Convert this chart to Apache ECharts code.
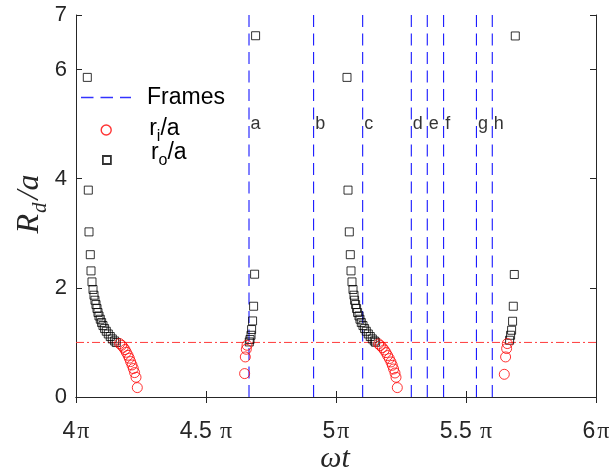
<!DOCTYPE html>
<html>
<head>
<meta charset="utf-8">
<script src="https://cdn.jsdelivr.net/npm/echarts@6/dist/echarts.min.js"></script>
<style>
  html, body { margin: 0; padding: 0; background: #fff; }
  #chart { width: 614px; height: 474px; }
</style>
</head>
<body>
<div id="chart"></div>
<script>
// Outer radius r_o/a per pass, as [ωt/π, r_o/a]
const roPass1 = [
  [4.0435, 5.857], [4.0473, 3.791], [4.0500, 3.026], [4.0550, 2.608],
  [4.0577, 2.311], [4.0615, 2.109], [4.0654, 1.970], [4.0692, 1.865],
  [4.0730, 1.773], [4.0769, 1.694], [4.0808, 1.621], [4.0846, 1.548],
  [4.0885, 1.485], [4.0935, 1.425], [4.0985, 1.364], [4.1038, 1.309],
  [4.1100, 1.254], [4.1165, 1.205], [4.1242, 1.155], [4.1319, 1.108],
  [4.1396, 1.064], [4.1485, 1.027], [4.1550, 0.998]
];
const roPass2 = [
  [4.6908, 6.620], [4.6869, 2.250], [4.6831, 1.663], [4.6792, 1.394],
  [4.6754, 1.236], [4.6731, 1.131], [4.6692, 1.053], [4.6665, 1.009]
];
const roPass3 = [
  [5.0423, 5.857], [5.0462, 3.791], [5.0512, 3.026], [5.0550, 2.608],
  [5.0577, 2.311], [5.0615, 2.109], [5.0654, 1.970], [5.0692, 1.865],
  [5.0715, 1.773], [5.0754, 1.694], [5.0792, 1.621], [5.0831, 1.548],
  [5.0885, 1.485], [5.0923, 1.425], [5.0973, 1.364], [5.1038, 1.309],
  [5.1100, 1.254], [5.1165, 1.205], [5.1242, 1.155], [5.1319, 1.108],
  [5.1396, 1.064], [5.1473, 1.027], [5.1523, 1.003]
];
const roPass4 = [
  [5.6896, 6.616], [5.6858, 2.245], [5.6819, 1.663], [5.6792, 1.388],
  [5.6754, 1.223], [5.6715, 1.131], [5.6677, 1.040]
];

// Inner radius r_i/a per pass, as [ωt/π, r_i/a]
const riPass1 = [
  [4.1677, 0.979], [4.1754, 0.948], [4.1819, 0.911], [4.1885, 0.869],
  [4.1935, 0.820], [4.2000, 0.765], [4.2050, 0.711], [4.2100, 0.649],
  [4.2154, 0.587], [4.2204, 0.521], [4.2254, 0.447], [4.2308, 0.361],
  [4.2358, 0.172]
];
const riPass2 = [
  [4.6577, 0.948], [4.6550, 0.875], [4.6512, 0.734], [4.6485, 0.429]
];
const riPass3 = [
  [5.1638, 0.972], [5.1704, 0.943], [5.1781, 0.906], [5.1858, 0.862],
  [5.1923, 0.814], [5.1985, 0.759], [5.2050, 0.704], [5.2115, 0.642],
  [5.2165, 0.581], [5.2215, 0.513], [5.2269, 0.440], [5.2308, 0.361],
  [5.2358, 0.172]
];
const riPass4 = [
  [5.6588, 0.979], [5.6562, 0.888], [5.6523, 0.734], [5.6473, 0.416]
];

// Snapshot instants (ωt/π) and their tags
const frameTimes = [4.6654, 4.914, 5.1027, 5.2896, 5.351, 5.414, 5.540, 5.601];
const frameNames = ['a', 'b', 'c', 'd', 'e', 'f', 'g', 'h'];
const frameTagLevel = 5;

// Drop radius reference R_d = a
const unitLevel = 1;

// Axis extents and ticks
const timeRange = [4, 6];
const radiusRange = [0, 7];
const xTicks = [4, 4.5, 5, 5.5, 6];
const xTickLabels = ['4π', '4.5 π', '5π', '5.5 π', '6π'];

const axisColor = '#262626';
const frameBlue = '#0000ff';
const sans = 'Liberation Sans, Arial, Helvetica, sans-serif';
const serif = 'Liberation Serif, Times New Roman, serif';
const frameDash = [12, 6.5];

const chart = echarts.init(document.getElementById('chart'), null, { renderer: 'canvas' });

function piLabel(v) {
  const i = xTicks.findIndex(t => Math.abs(t - v) < 1e-6);
  if (i < 0) return '';
  const s = xTickLabels[i];
  const k = s.indexOf('π');
  return '{n|' + s.slice(0, k) + '}{p|π}';
}

const subRich = {
  m: { fontSize: 23, fontFamily: sans, color: '#000', lineHeight: 24, verticalAlign: 'top' },
  s: { fontSize: 16, fontFamily: sans, color: '#000', lineHeight: 16, verticalAlign: 'top', padding: [12, 0, 0, 0] }
};

const legendBase = {
  orient: 'vertical',
  padding: 0,
  itemGap: 0,
  selectedMode: false,
  symbolKeepAspect: true
};

// Three dashes, drawn as the legend key of the snapshot lines
const dashKey = 'path://M0,0H12.5V1.3H0Z M19.5,0H32V1.3H19.5Z M39,0H50V1.3H39Z';

const frameLineSeries = frameTimes.map((t, i) => ({
  name: 'frame-' + frameNames[i],
  type: 'line',
  data: [[t, radiusRange[0]], [t, radiusRange[1]]],
  symbol: 'none',
  silent: true,
  lineStyle: { color: frameBlue, width: 1, type: frameDash },
  z: 1
}));

const option = {
  animation: false,
  backgroundColor: '#fff',
  grid: { left: 76, right: 18, top: 15, bottom: 77, containLabel: false, outerBoundsMode: 'none' },
  legend: [
    Object.assign({}, legendBase, {
      data: [{ name: 'Frames', icon: dashKey, itemStyle: { color: frameBlue } }],
      left: 81, top: 86, itemWidth: 50, itemHeight: 1.3,
      textStyle: { fontSize: 23, fontFamily: sans, color: '#000', padding: [0, 0, 0, 11] }
    }),
    Object.assign({}, legendBase, {
      data: [{ name: 'ri', icon: 'circle', itemStyle: { color: 'rgba(0,0,0,0)', borderColor: '#ff0000', borderWidth: 1.4 } }],
      left: 100.5, top: 117, itemWidth: 10, itemHeight: 10,
      formatter: () => '{m|r}{s|i}{m|/a}',
      textStyle: { fontSize: 23, fontFamily: sans, color: '#000', padding: [0, 0, 2, 33], rich: subRich }
    }),
    Object.assign({}, legendBase, {
      data: [{ name: 'ro', icon: 'rect', itemStyle: { color: 'rgba(0,0,0,0)', borderColor: '#000', borderWidth: 1.8 } }],
      left: 102, top: 141, itemWidth: 8, itemHeight: 8,
      formatter: () => '{m|r}{s|o}{m|/a}',
      textStyle: { fontSize: 23, fontFamily: sans, color: '#000', padding: [0, 0, 14, 35], rich: subRich }
    })
  ],
  xAxis: [
    {
      type: 'value', position: 'bottom', min: timeRange[0], max: timeRange[1], interval: 0.5,
      axisLine: { show: true, lineStyle: { color: axisColor, width: 1 } },
      axisTick: { show: true, inside: true, length: 6, lineStyle: { color: axisColor } },
      splitLine: { show: false },
      axisLabel: {
        margin: 23, formatter: piLabel,
        rich: {
          n: { fontSize: 23, fontFamily: sans, color: axisColor },
          p: { fontSize: 24, fontFamily: serif, color: axisColor, padding: [0, 0, 0, 2] }
        }
      }
    },
    {
      type: 'value', position: 'top', min: timeRange[0], max: timeRange[1], interval: 0.5,
      axisLine: { show: true, lineStyle: { color: axisColor, width: 1 } },
      axisTick: { show: true, inside: true, length: 6, lineStyle: { color: axisColor } },
      axisLabel: { show: false }, splitLine: { show: false }
    }
  ],
  yAxis: [
    {
      type: 'value', position: 'left', min: radiusRange[0], max: radiusRange[1], interval: 2,
      axisLine: { show: true, lineStyle: { color: axisColor, width: 1 } },
      axisTick: { show: true, inside: true, length: 6, lineStyle: { color: axisColor } },
      splitLine: { show: false },
      axisLabel: { margin: 9, fontSize: 22, fontFamily: sans, color: axisColor }
    },
    {
      type: 'value', position: 'right', min: radiusRange[0], max: radiusRange[1], interval: 2,
      axisLine: { show: true, lineStyle: { color: axisColor, width: 1 } },
      axisTick: { show: true, inside: true, length: 6, lineStyle: { color: axisColor } },
      axisLabel: { show: false }, splitLine: { show: false }
    }
  ],
  series: frameLineSeries.concat([
    {
      name: 'Frames',
      type: 'scatter',
      data: [],
      itemStyle: { color: frameBlue }
    },
    {
      name: 'frameTags',
      type: 'scatter',
      symbolSize: 1,
      itemStyle: { color: 'rgba(0,0,0,0)' },
      silent: true,
      data: frameTimes.map((t, i) => [t, frameTagLevel, frameNames[i]]),
      label: {
        show: true, position: 'right', distance: 1,
        formatter: p => p.data[2],
        fontSize: 18, fontFamily: sans, color: '#000'
      }
    },
    {
      name: 'ro',
      type: 'scatter',
      symbol: 'rect',
      symbolSize: 8,
      itemStyle: { color: 'rgba(0,0,0,0)', borderColor: '#000', borderWidth: 1 },
      silent: true,
      data: [].concat(roPass1, roPass2, roPass3, roPass4)
    },
    {
      name: 'ri',
      type: 'scatter',
      symbol: 'circle',
      symbolSize: 10,
      itemStyle: { color: 'rgba(0,0,0,0)', borderColor: '#ff0000', borderWidth: 1 },
      silent: true,
      data: [].concat(riPass1, riPass2, riPass3, riPass4)
    },
    {
      name: 'unitLevel',
      type: 'line',
      data: [[timeRange[0], unitLevel], [timeRange[1], unitLevel]],
      symbol: 'none',
      silent: true,
      lineStyle: { color: '#ff3b3b', width: 1, type: [8, 3, 2, 3] },
      z: 1
    }
  ]),
  graphic: [
    {
      type: 'text', x: 30, y: 204, rotation: Math.PI / 2, silent: true,
      style: {
        text: '{i|R}{s|d}{i|/a}',
        align: 'center', verticalAlign: 'middle',
        rich: {
          i: { fontSize: 32, fontFamily: serif, fontStyle: 'italic', fill: '#262626', lineHeight: 32, verticalAlign: 'top' },
          s: { fontSize: 21, fontFamily: serif, fontStyle: 'italic', fill: '#262626', lineHeight: 21, verticalAlign: 'top', padding: [16, 3, 0, 1] }
        }
      }
    },
    {
      type: 'text', x: 335, y: 459, silent: true,
      style: {
        text: 'ωt', align: 'center', verticalAlign: 'middle',
        fontSize: 30, fontFamily: serif, fontStyle: 'italic', fill: '#262626'
      }
    }
  ]
};

chart.setOption(option);
</script>
</body>
</html>
